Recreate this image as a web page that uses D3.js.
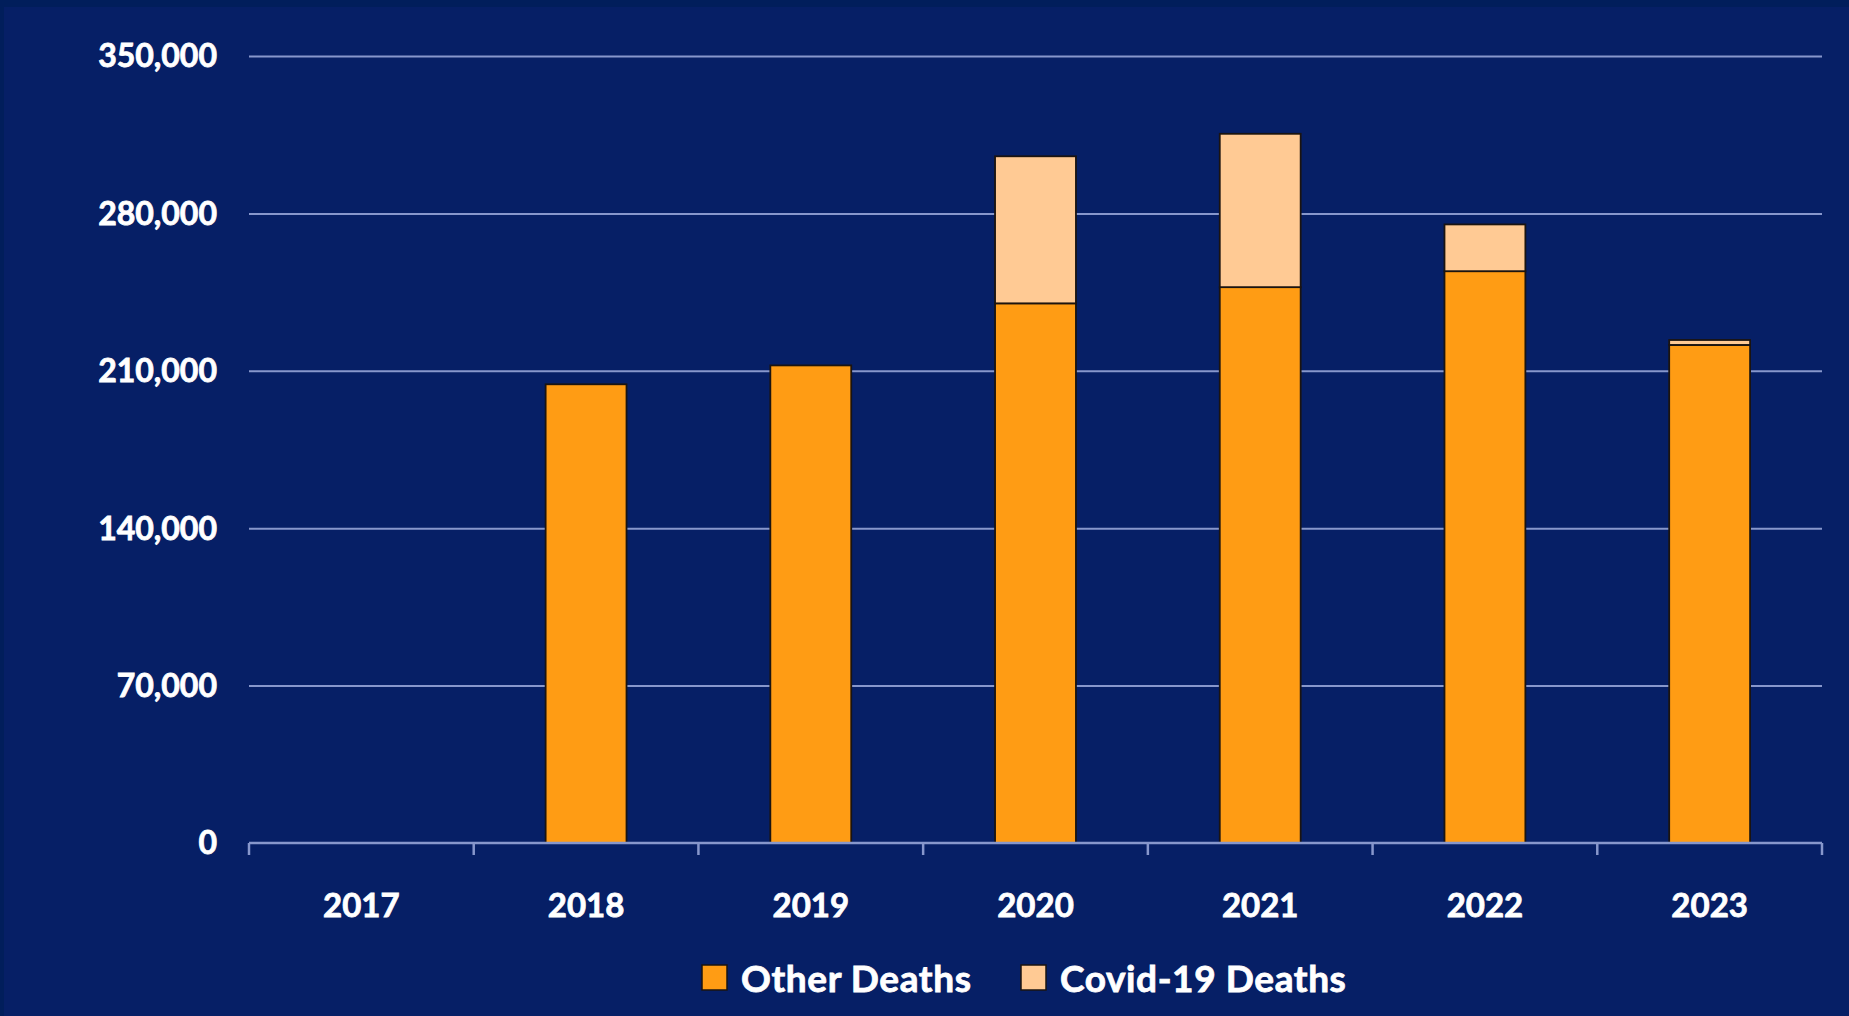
<!DOCTYPE html>
<html>
<head>
<meta charset="utf-8">
<script src="https://cdn.jsdelivr.net/npm/d3@7"></script>
<style>
  html, body { margin: 0; padding: 0; background: #061f66; }
  svg { display: block; }
</style>
</head>
<body>
<svg id="chart" width="1849" height="1016"></svg>
<script>
const years = ["2017", "2018", "2019", "2020", "2021", "2022", "2023"];
const otherDeaths = [0, 204000, 212400, 240000, 247200, 254300, 221500];
const covidDeaths = [0, 0, 0, 65400, 68200, 20800, 2200];
const seriesNames = ["Other Deaths", "Covid-19 Deaths"];
const seriesColors = ["#ff9c14", "#ffca94"];
const yTicks = [0, 70000, 140000, 210000, 280000, 350000];

const W = 1849, H = 1016;
const margin = { left: 249, right: 27, top: 56, bottom: 173 };
const svg = d3.select("#chart");

svg.append("rect").attr("width", W).attr("height", H).attr("fill", "#061f66");
svg.append("rect").attr("width", W).attr("height", 7).attr("fill", "#011e5b");
svg.append("rect").attr("width", 4).attr("height", H).attr("fill", "#011e5b");

const x = d3.scaleBand().domain(years)
  .range([margin.left, W - margin.right]).paddingInner(0.64).paddingOuter(0.32);
const y = d3.scaleLinear().domain([0, 350000]).range([H - margin.bottom, margin.top]);

const font = "Lato, 'Open Sans', sans-serif";

// grid lines + y labels
const yAxis = d3.axisLeft(y).tickValues(yTicks)
  .tickSize(-(W - margin.right - margin.left))
  .tickFormat(d3.format(","))
  .tickPadding(32);
const gy = svg.append("g").attr("transform", `translate(${margin.left},0)`).call(yAxis);
gy.select(".domain").remove();
gy.selectAll(".tick line").attr("stroke", "#8797cc").attr("stroke-width", 2)
  .filter(d => d === 0).remove();
gy.selectAll(".tick text").attr("fill", "#ffffff").attr("font-family", font)
  .attr("font-weight", 700).attr("font-size", 32).attr("dy", "0.34em")
  .attr("stroke", "#ffffff").attr("stroke-width", 0.8);

// bars
const table = years.map((yr, i) => ({ year: yr, other: otherDeaths[i], covid: covidDeaths[i] }));
const stack = d3.stack().keys(["other", "covid"])(table);
const gBars = svg.append("g");
stack.forEach((layer, li) => {
  gBars.selectAll(null).data(layer.filter(d => d[1] - d[0] > 0)).enter().append("rect")
    .attr("x", d => x(d.data.year))
    .attr("width", x.bandwidth())
    .attr("y", d => y(d[1]))
    .attr("height", d => y(d[0]) - y(d[1]))
    .attr("fill", seriesColors[li])
    .attr("stroke", "#1b1410").attr("stroke-width", 1.8);
});

// x axis with ticks at band boundaries
const gx = svg.append("g").attr("transform", `translate(0,${H - margin.bottom})`);
const x0 = margin.left, x1 = W - margin.right;
gx.append("line").attr("x1", x0).attr("x2", x1).attr("y1", 0).attr("y2", 0)
  .attr("stroke", "#8797cc").attr("stroke-width", 2.5);
const bounds = d3.range(years.length + 1).map(i => x0 + i * (x1 - x0) / years.length);
gx.selectAll(null).data(bounds).enter().append("line")
  .attr("x1", d => d).attr("x2", d => d).attr("y1", 0).attr("y2", 12)
  .attr("stroke", "#8797cc").attr("stroke-width", 2.5);
gx.selectAll(null).data(years).enter().append("text")
  .attr("x", d => x(d) + x.bandwidth() / 2)
  .attr("y", 74)
  .attr("text-anchor", "middle")
  .attr("fill", "#ffffff").attr("font-family", font).attr("font-weight", 700).attr("font-size", 33)
  .attr("stroke", "#ffffff").attr("stroke-width", 0.8)
  .text(d => d);

// legend
const legend = svg.append("g");
const legendX = [702, 1021];
seriesNames.forEach((name, i) => {
  legend.append("rect").attr("x", legendX[i]).attr("y", 965).attr("width", 25).attr("height", 25)
    .attr("fill", seriesColors[i]).attr("stroke", "#1b1410").attr("stroke-width", 1.5);
  legend.append("text").attr("x", legendX[i] + 39).attr("y", 992)
    .attr("fill", "#ffffff").attr("font-family", font).attr("font-weight", 700).attr("font-size", 37)
    .attr("letter-spacing", 0.6)
    .attr("stroke", "#ffffff").attr("stroke-width", 0.8)
    .text(name);
});
</script>
</body>
</html>
